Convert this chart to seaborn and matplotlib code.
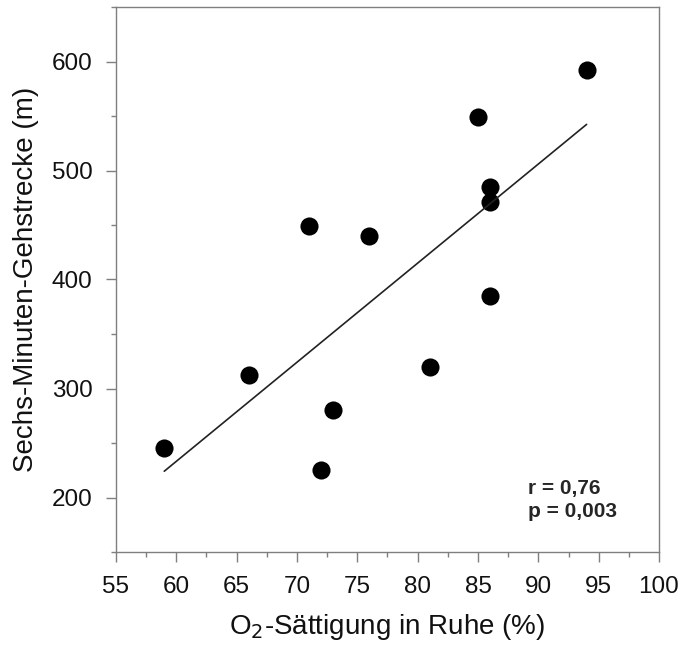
import matplotlib
matplotlib.use("Agg")
import matplotlib.pyplot as plt
import seaborn as sns
import pandas as pd
from matplotlib.ticker import MultipleLocator

o2_saettigung = [59, 66, 71, 72, 73, 76, 81, 85, 86, 86, 86, 94]
gehstrecke = [245, 312, 449, 225, 280, 440, 320, 549, 485, 471, 385, 592]
x_ticks = [55, 60, 65, 70, 75, 80, 85, 90, 95, 100]
y_ticks = [200, 300, 400, 500, 600]

df = pd.DataFrame({"o2": o2_saettigung, "dist": gehstrecke})

sns.set_style("white")
plt.rcParams['font.family'] = ['Liberation Sans', 'DejaVu Sans']

fig = plt.figure(figsize=(6.83, 6.5), dpi=100)
L, R, T, B = 116, 659, 7, 552
ax = fig.add_axes([L / 683, 1 - B / 650, (R - L) / 683, (B - T) / 650])

sns.regplot(data=df, x="o2", y="dist", ax=ax, ci=None,
            scatter_kws=dict(s=170, color="black", edgecolor="black", linewidths=0, alpha=1),
            line_kws=dict(color="#222222", linewidth=1.2))

ax.set_xlim(55, 100)
ax.set_ylim(150, 650)
ax.set_xticks(x_ticks)
ax.set_yticks(y_ticks)
ax.xaxis.set_minor_locator(MultipleLocator(2.5))
ax.yaxis.set_minor_locator(MultipleLocator(50))

spine_col = "#7f7f7f"
for sp in ax.spines.values():
    sp.set_color(spine_col)
    sp.set_linewidth(1.0)
    sp.set_visible(True)
ax.tick_params(axis="both", which="major", direction="out", length=7, width=1,
               color=spine_col, labelsize=17.5, labelcolor="#111111", pad=10,
               bottom=True, left=True)
ax.tick_params(axis="both", which="minor", direction="out", length=3.6, width=1,
               color=spine_col, bottom=True, left=True)

ax.set_xlabel("O$_2$-Sättigung in Ruhe (%)", fontsize=20, labelpad=10, color="#111111")
ax.set_ylabel("Sechs-Minuten-Gehstrecke (m)", fontsize=20, labelpad=9, color="#111111")

ax.text(0.758, 0.1156, "r = 0,76", transform=ax.transAxes,
        fontsize=15, fontweight="bold", va="center", ha="left")
ax.text(0.758, 0.0734, "p = 0,003", transform=ax.transAxes,
        fontsize=15, fontweight="bold", va="center", ha="left")

fig.savefig("out.png", dpi=100)
